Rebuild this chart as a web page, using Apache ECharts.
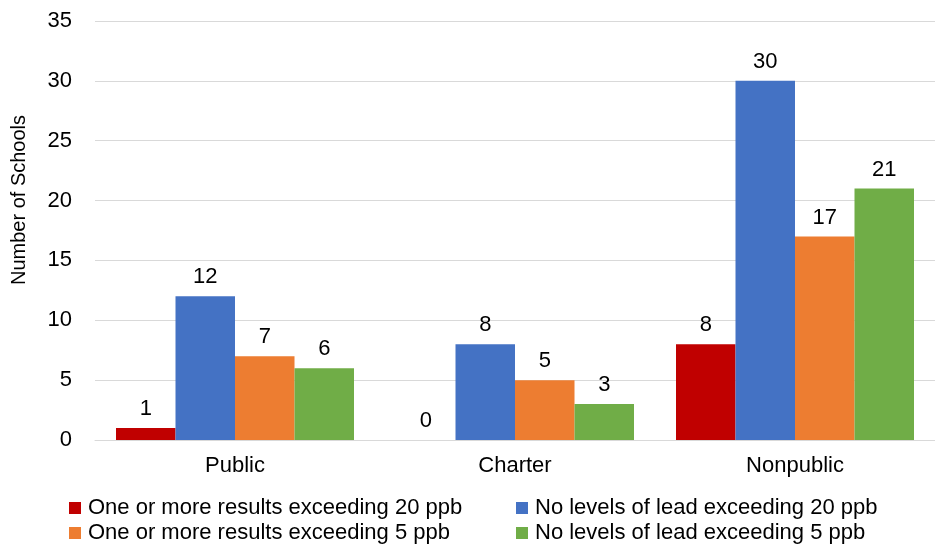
<!DOCTYPE html>
<html><head><meta charset="utf-8">
<script src="https://cdn.jsdelivr.net/npm/echarts@6/dist/echarts.min.js"></script>
<style>html,body{margin:0;padding:0;background:#fff}#c{width:935px;height:546px}</style>
</head><body><div id="c"></div>
<script>
const categories = ['Public', 'Charter', 'Nonpublic'];
const seriesNames = ['One or more results exceeding 20 ppb', 'No levels of lead exceeding 20 ppb', 'One or more results exceeding 5 ppb', 'No levels of lead exceeding 5 ppb'];
const exceed20 = [1, 0, 8];
const noLead20 = [12, 8, 30];
const exceed5 = [7, 5, 17];
const noLead5 = [6, 3, 21];
const colors = ['#C00000', '#4472C4', '#ED7D31', '#70AD47'];
const yTicks = { min: 0, max: 35, interval: 5 };

const font = 'Liberation Sans, Arial, sans-serif';
const values = [exceed20, noLead20, exceed5, noLead5];
const legendPos = [[69, 497], [516, 497], [69, 522], [516, 522]];
const chart = echarts.init(document.getElementById('c'));
chart.setOption({
  animation: false,
  textStyle: { fontFamily: font },
  grid: { left: 95, right: 0, top: 21, bottom: 106 },
  legend: seriesNames.map((n, i) => ({
    left: legendPos[i][0], top: legendPos[i][1], itemWidth: 12, itemHeight: 12, itemGap: 0, icon: 'rect',
    padding: 0,
    textStyle: { fontSize: 22, color: '#000', fontFamily: font, padding: [0, 0, 0, 2] }, data: [n]
  })),
  graphic: [{ type: 'text', x: 9, y: 200, rotation: Math.PI / 2,
    style: { text: 'Number of Schools', font: '20px ' + font, fill: '#000', textAlign: 'center', textVerticalAlign: 'top' } }],
  xAxis: {
    type: 'category', data: categories,
    axisLine: { lineStyle: { color: '#d9d9d9' } }, axisTick: { show: false },
    axisLabel: { fontSize: 22, color: '#000', margin: 15 }
  },
  yAxis: {
    type: 'value', min: yTicks.min, max: yTicks.max, interval: yTicks.interval,
    axisLine: { show: false }, axisTick: { show: false },
    axisLabel: { fontSize: 22, color: '#000', margin: 23 },
    splitLine: { lineStyle: { color: '#d9d9d9' } }
  },
  series: seriesNames.map((n, i) => ({
    name: n, type: 'bar', data: values[i], barGap: '0%', barCategoryGap: '15%',
    itemStyle: { color: colors[i] },
    label: { show: true, position: 'top', distance: 8, fontSize: 22, color: '#000', fontFamily: font }
  }))
});
</script></body></html>
